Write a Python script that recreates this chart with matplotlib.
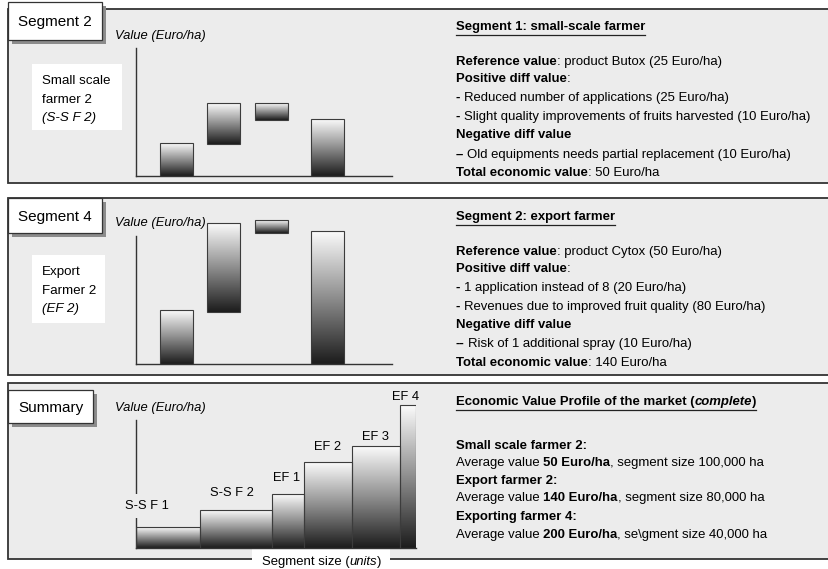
import numpy as np
import matplotlib
matplotlib.use("Agg")
import matplotlib.pyplot as plt
from matplotlib.patches import Rectangle
from matplotlib.colors import LinearSegmentedColormap

W, H = 829, 569
plt.rcParams["font.family"] = ["Liberation Sans", "DejaVu Sans"]

# --- data (bar values in the diagram's own units) ---
seg2_bottom = [0, 32, 56, 0]
seg2_top = [33, 73, 73, 57]
seg4_bottom = [0, 52, 131, 0]
seg4_top = [54, 141, 144, 133]

summary_names = ["S-S F 1", "S-S F 2", "EF 1", "EF 2", "EF 3", "EF 4"]
summary_size = [64, 72, 32, 48, 48, 16]
summary_value = [21, 38, 54, 86, 102, 143]

seg2_box = ["Small scale", "farmer 2", "(S-S F 2)"]
seg4_box = ["Export", "Farmer 2", "(EF 2)"]

seg2_title = [("Segment 1: small-scale farmer", "b")]
seg2_lines = [
    [("Reference value", "b"), (": product Butox (25 Euro/ha)", "r")],
    [("Positive diff value", "b"), (":", "r")],
    [("- ", "b"), ("Reduced number of applications (25 Euro/ha)", "r")],
    [("- ", "b"), ("Slight quality improvements of fruits harvested (10 Euro/ha)", "r")],
    [("Negative diff value", "b")],
    [("\u2013 ", "b"), ("Old equipments needs partial replacement (10 Euro/ha)", "r")],
    [("Total economic value", "b"), (": 50 Euro/ha", "r")],
]
seg4_title = [("Segment 2: export farmer", "b")]
seg4_lines = [
    [("Reference value", "b"), (": product Cytox (50 Euro/ha)", "r")],
    [("Positive diff value", "b"), (":", "r")],
    [("- ", "b"), ("1 application instead of 8 (20 Euro/ha)", "r")],
    [("- ", "b"), ("Revenues due to improved fruit quality (80 Euro/ha)", "r")],
    [("Negative diff value", "b")],
    [("-- ", "b"), ("Risk of 1 additional spray (10 Euro/ha)", "r")],
    [("Total economic value", "b"), (": 140 Euro/ha", "r")],
]
summary_title = [("Economic Value Profile of the market (", "b"), ("complete", "bi"), (")", "b")]
summary_lines = [
    [("Small scale farmer 2:", "b")],
    [("Average value ", "r"), ("50 Euro/ha", "b"), (", segment size 100,000 ha", "r")],
    [("Export farmer 2:", "b")],
    [("Average value ", "r"), ("140 Euro/ha", "b"), (", segment size 80,000 ha", "r")],
    [("Exporting farmer 4:", "b")],
    [("Average value ", "r"), ("200 Euro/ha", "b"), (", se\\gment size 40,000 ha", "r")],
]

PANEL_BG = "#ececec"
LINE = "#333333"
cmap = LinearSegmentedColormap.from_list("bar", ["#fbfbfb", "#8e8e8e", "#1c1c1c"])
grad = np.linspace(1, 0, 256).reshape(-1, 1)

fig = plt.figure(figsize=(W / 100, H / 100), dpi=100)
bg = fig.add_axes([0, 0, 1, 1])
bg.set_xlim(0, W)
bg.set_ylim(H, 0)
bg.axis("off")
renderer = fig.canvas.get_renderer()


def kw(style, size):
    return dict(fontsize=size, fontweight="bold" if "b" in style else "normal",
                fontstyle="italic" if "i" in style else "normal")


def width_of(s, style, size):
    t = bg.text(0, 0, s, **kw(style, size))
    w = t.get_window_extent(renderer).width
    t.remove()
    return w


def rich(x, y, parts, size, underline=False):
    x0 = x
    for s, style in parts:
        sp = width_of("x x", style, size) - width_of("xx", style, size)
        core = s.strip(" ")
        x += (len(s) - len(s.lstrip(" "))) * sp
        if core:
            t = bg.text(x, y, core, va="center", ha="left", zorder=6, **kw(style, size))
            x += t.get_window_extent(renderer).width
        x += (len(s) - len(s.rstrip(" "))) * sp
    if underline:
        bg.plot([x0, x], [y + 8, y + 8], color="#222222", lw=0.9, zorder=6)
    return x


def px_axes(left, bottom, width, height):
    ax = fig.add_axes([left / W, 1 - bottom / H, width / W, height / H])
    ax.patch.set_visible(False)
    for s in ["top", "right"]:
        ax.spines[s].set_visible(False)
    for s in ["left", "bottom"]:
        ax.spines[s].set_color(LINE)
        ax.spines[s].set_linewidth(1.0)
    ax.set_xticks([])
    ax.set_yticks([])
    return ax


def shade(ax, bars):
    for b in bars:
        x0, y0 = b.get_x(), b.get_y()
        ax.imshow(grad, extent=[x0, x0 + b.get_width(), y0, y0 + b.get_height()],
                  origin="lower", cmap=cmap, aspect="auto", zorder=2, interpolation="bilinear")


def label_box(x0, y0, x1, y1, text, size):
    bg.add_patch(Rectangle((x0 + 4, y0 + 4), x1 - x0, y1 - y0, facecolor="#8c8c8c",
                           edgecolor="none", zorder=3))
    bg.add_patch(Rectangle((x0, y0), x1 - x0, y1 - y0, facecolor="white",
                           edgecolor=LINE, lw=0.9, zorder=4))
    bg.text((x0 + x1) / 2, (y0 + y1) / 2 + 1, text, ha="center", va="center",
            fontsize=size, zorder=5)


# panel frames
for top, bottom in [(9, 183), (198, 375), (383, 559)]:
    bg.add_patch(Rectangle((8, top), W + 20, bottom - top, facecolor=PANEL_BG,
                           edgecolor=LINE, lw=1.3, zorder=1))

label_box(8, 2, 102, 40, "Segment 2", 11)
label_box(8, 198, 102, 233, "Segment 4", 11)
label_box(8, 390, 93, 423, "Summary", 11)

# white description boxes
for (x0, y0, x1, y1), lines in [((32, 64, 122, 130), seg2_box), ((32, 255, 105, 323), seg4_box)]:
    bg.add_patch(Rectangle((x0, y0), x1 - x0, y1 - y0, facecolor="white", edgecolor="none", zorder=2))
    for i, s in enumerate(lines):
        bg.text(42, y0 + 17 + i * 18.5, s, fontsize=9.6, va="center", ha="left",
                fontstyle="italic" if i == 2 else "normal", zorder=3)

for y in [36, 223, 408]:
    bg.text(115, y, "Value (Euro/ha)", fontsize=9.4, fontstyle="italic", va="center", ha="left", zorder=6)

# waterfall-like charts of segment 2 and segment 4
xpos = [0, 1, 2, 3.18]
for base, bottoms, tops in [(176, seg2_bottom, seg2_top), (364, seg4_bottom, seg4_top)]:
    ax = px_axes(136, base, 256, 150)
    bars = ax.bar(xpos, np.subtract(tops, bottoms), bottom=bottoms, width=0.695,
                  facecolor="none", edgecolor="#3c3c3c", lw=0.8, zorder=3)
    shade(ax, bars)
    ax.set_xlim(-0.85, 256 / 47.5 - 0.85)
    ax.set_ylim(0, 150)
    ax.spines["left"].set_bounds(0, 128)

# summary step chart
ax = px_axes(136, 548, 280, 150)
lefts = np.concatenate([[0], np.cumsum(summary_size)[:-1]])
bars = ax.bar(lefts, summary_value, width=summary_size, align="edge",
              facecolor="none", edgecolor="#3c3c3c", lw=0.8, zorder=3)
shade(ax, bars)
ax.set_xlim(0, 280)
ax.set_ylim(0, 150)
ax.spines["left"].set_bounds(0, 128)
label_off = [(-21, 21), (-4, 17), (-1, 16), (0, 15), (0, 9), (-2, 8)]
for b, name, (dx, dy) in zip(bars, summary_names, label_off):
    ax.text(b.get_x() + b.get_width() / 2 + dx, b.get_height() + dy, name,
            ha="center", va="center", fontsize=9.3, zorder=4,
            bbox=dict(facecolor=PANEL_BG, edgecolor="none", pad=4.5) if name == "S-S F 1" else None)

# axis caption breaking the bottom frame
bg.add_patch(Rectangle((252, 549), 138, 22, facecolor="white", edgecolor="none", zorder=5))
rich(262, 562, [("Segment size (", "r"), ("units", "i"), (")", "r")], 9.45)

# right-hand text blocks
TS = 9.45
for title, lines, ys in [
    (seg2_title, seg2_lines, [27, 62, 79, 98, 117, 135, 155, 173]),
    (seg4_title, seg4_lines, [217, 252, 269, 288, 307, 325, 344, 363]),
    (summary_title, summary_lines, [402, 446, 463, 481, 498, 517, 535]),
]:
    rich(456, ys[0], title, TS, underline=True)
    for y, parts in zip(ys[1:], lines):
        rich(456, y, parts, TS)

fig.savefig("out.png", dpi=100)
